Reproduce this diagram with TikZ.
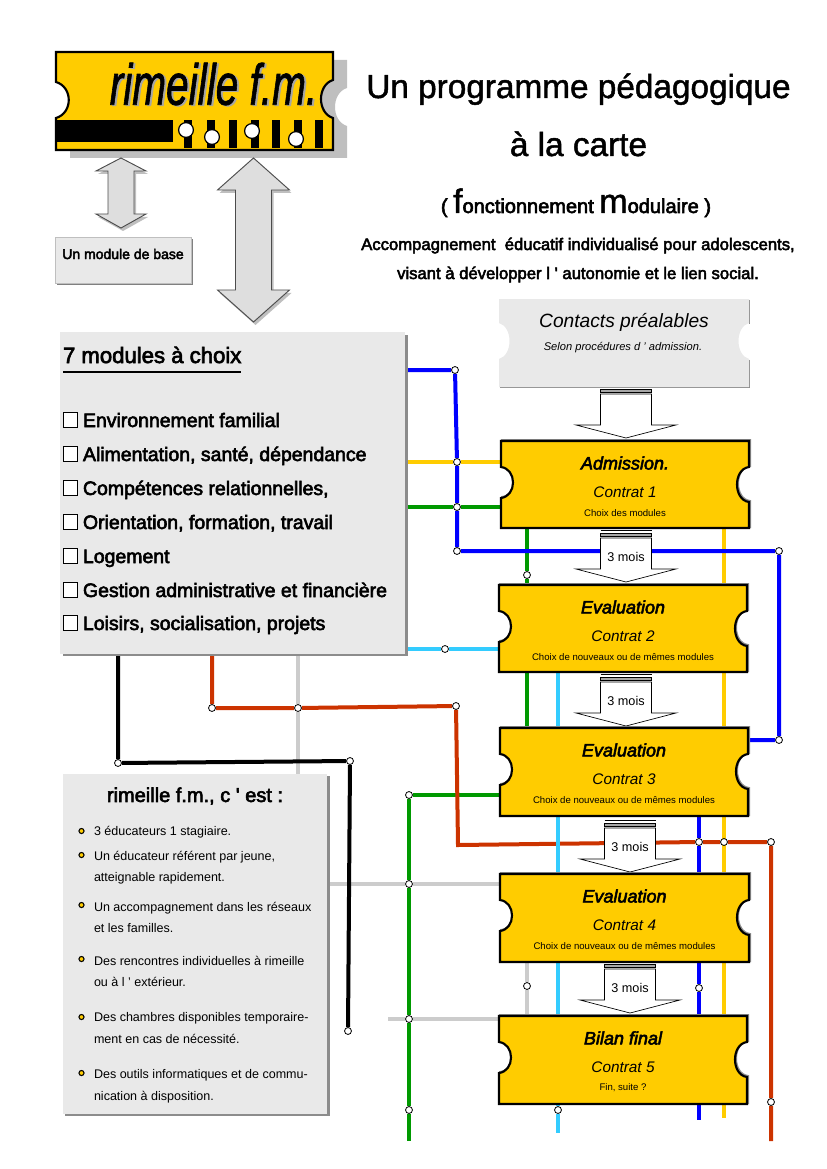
\documentclass[tikz,border=0pt]{standalone}
\usepackage{fontspec}
\usetikzlibrary{calc}
\setmainfont{Liberation Sans}
\newfontfamily\fb[FakeBold=3]{Liberation Sans}
\newfontfamily\fbt[FakeBold=1.4]{Liberation Sans}
\newcommand\fsz[1]{\fontsize{#1pt}{#1pt}\selectfont}
\definecolor{tyellow}{HTML}{FFCC00}
\definecolor{tgreen}{HTML}{009900}
\definecolor{tred}{HTML}{CC3300}
\definecolor{tcyan}{HTML}{33CCFF}
\definecolor{tblue}{HTML}{0000FF}
\definecolor{tgray}{HTML}{CCCCCC}
\definecolor{pale}{HTML}{E9E9E9}
\definecolor{edge}{HTML}{8C8C8C}
\pgfdeclarelayer{lines}
\pgfsetlayers{lines,main}
\tikzset{
  lnk/.style={line width=3pt,line cap=butt,line join=miter},
  jn/.style={circle,draw=black,fill=white,line width=0.6pt,minimum size=5.2pt,inner sep=0pt},
  panel/.style={fill=pale,inner sep=0,outer sep=0},
  txt/.style={inner sep=0,outer sep=0,anchor=base west,text=black},
  ctr/.style={inner sep=0,outer sep=0,anchor=center,text=black},
  cbase/.style={inner sep=0,outer sep=0,anchor=base,text=black},
  item/.style={txt,font=\fb\fsz{14.6}},
  small/.style={txt,font=\fsz{9.4}},
  bul/.style={circle,draw=black,fill=tyellow,line width=0.8pt,minimum size=3.8pt,inner sep=0pt},
  tick/.style={draw=black,fill=white,line width=0.5pt,minimum size=10.8pt,inner sep=0pt},
  dbl/.style={draw=black!70,fill=black!13,line width=0.7pt,line join=miter},
  dblsh/.style={fill=black!25},
  blk/.style={draw=black,fill=white,line width=0.5pt,line join=miter},
}
\newcommand\tickpath[2]{(0,0) -- (#1,0) -- (#1,26) .. controls ({#1-16},28) and ({#1-16},59) .. (#1,61) -- (#1,#2) -- (0,#2) -- (0,57) .. controls (16,55) and (16,28) .. (0,26) -- cycle}
\newcommand\ticket[8]{%
  \begin{scope}[shift={(#2,#3)}]
    \draw[black!45,line width=1.5pt,shift={(1,-1)}] \tickpath{#4}{#5};
    \draw[fill=tyellow,draw=black,line width=1.6pt,line join=miter] \tickpath{#4}{#5};
    \node[inner sep=0,outer sep=0,minimum width=#4*0.75pt,minimum height=#5*0.75pt] (#1) at ({#4/2},{#5/2}) {};
  \end{scope}
  \node[ctr,font=\fb\itshape\fsz{13.5}] (#1t) at ($(#1.north)+(0,22)$) {#6};
  \node[ctr,font=\itshape\fsz{11.5}] (#1c) at ($(#1.north)+(0,51.5)$) {#7};
  \node[ctr,font=\fsz{7.2}] (#1s) at ($(#1.north)+(0,72)$) {#8};
}
\newcommand\blockarrow[4]{%
  \draw[blk] (#2-25.5,#3-8) -- (#2+25.5,#3-8);
  \draw[line width=0.5pt,draw=black,fill=black!35] (#2-25.5,#3-5) rectangle (#2+25.5,#3-2);
  \draw[blk] (#2-25.5,#3) -- (#2+25.5,#3) -- (#2+25.5,#3+31) -- (#2+50,#3+31) -- (#2,#3+44) -- (#2-50,#3+31) -- (#2-25.5,#3+31) -- cycle;
  \node[ctr,font=\fsz{9.5}] (#1) at (#2,#3+19) {#4};
}
\newcommand\dblarrow[7]{%
  \fill[dblsh,shift={(2,3)}] (#1,#2) -- (#1+#7,#3) -- (#1+#6,#3) -- (#1+#6,#4) -- (#1+#7,#4) -- (#1,#5) -- (#1-#7,#4) -- (#1-#6,#4) -- (#1-#6,#3) -- (#1-#7,#3) -- cycle;
  \draw[dbl] (#1,#2) -- (#1+#7,#3) -- (#1+#6,#3) -- (#1+#6,#4) -- (#1+#7,#4) -- (#1,#5) -- (#1-#7,#4) -- (#1-#6,#4) -- (#1-#6,#3) -- (#1-#7,#3) -- cycle;
}
\begin{document}
\begin{tikzpicture}[x=0.75pt,y=-0.75pt]
\useasboundingbox (0,0) rectangle (826,1169);

% logo
\newcommand\logopath{(0,0) -- (277,0) -- (277,28) .. controls (261,33) and (261,61) .. (277,66) -- (277,98) -- (0,98) -- (0,66) .. controls (17,61) and (17,35) .. (0,30) -- cycle}
\begin{scope}[shift={(56,52)}]
  \fill[black!25,shift={(14,8)}] \logopath;
  \draw[fill=tyellow,draw=black,line width=1.6pt] \logopath;
  \node[inner sep=0,outer sep=0,minimum width=207.75pt,minimum height=73.5pt] (logo) at (138.5,49) {};
  \fill[black] (1,68) rectangle (117,90);
  \foreach \xa in {128,151,173,195,216,238,259}
    \fill[black] (\xa,68) rectangle (\xa+8,96);
  \foreach \cx/\cy in {130/78,156/85,196/79,240/87}
    \draw[fill=white,draw=black,line width=0.9pt] (\cx,\cy) circle (7.4);
\end{scope}
\node[ctr,text=black!35,font=\fbt\itshape\fsz{43.5},xscale=0.7] at (215.5,85) {rimeille f.m.};
\node[ctr,font=\fbt\itshape\fsz{43.5},xscale=0.7] (logotext) at (213.5,84) {rimeille f.m.};

% titles
\node[cbase,font=\fbt\fsz{25}] (t1) at (578.5,98) {Un programme pédagogique};
\node[cbase,font=\fbt\fsz{25}] (t2) at (578.5,156) {à la carte};
\node[cbase,font=\fb\fsz{15}] (t3) at (576,213) {( {\fbt\fsz{25.5}f}onctionnement {\fbt\fsz{25.5}m}odulaire )};
\node[cbase,font=\fb\fsz{12.5}] (t4) at (578,250) {Accompagnement\ \ éducatif individualisé pour adolescents,};
\node[cbase,font=\fb\fsz{12.5}] (t5) at (578,279) {visant à développer l ' autonomie et le lien social.};

% double arrows
\dblarrow{121}{158}{171}{214}{228}{13}{25}
\dblarrow{253.5}{158}{190}{290}{322}{18}{36}

% module de base
\fill[black!50] (57,239) rectangle (193,285);
\node[panel,draw=black!25,line width=0.4pt,minimum width=102pt,minimum height=34.5pt] (base) at (123,260) {};
\node[ctr,font=\fb\fsz{10.5}] (baset) at (123,254) {Un module de base};

% 7 modules
\fill[edge] (63,335) rectangle (407.5,655.5);
\node[panel,minimum width=258.75pt,minimum height=241.5pt] (mods) at (232.5,493) {};
\node[txt,font=\fb\fsz{16.6}] (modst) at (63,363) {7 modules à choix};
\draw[black,line width=1pt] (modst.west |- 0,372) -- (modst.east |- 0,372);
\foreach \n/\y/\t in {a/427/Environnement familial,b/461/{Alimentation, santé, dépendance},c/495/{Compétences relationnelles,},d/529/{Orientation, formation, travail},e/563/Logement,f/597/Gestion administrative et financière,g/630/{Loisirs, socialisation, projets}}{
  \node[tick] (box\n) at (70.5,\y-7) {};
  \node[item] (it\n) at (83,\y) {\t};
}

% rimeille box
\fill[edge] (65,776) rectangle (330,1116);
\node[panel,minimum width=198pt,minimum height=255pt] (rim) at (195,944) {};
\node[ctr,font=\fb\fsz{15}] (rimt) at (195,796) {rimeille f.m., c ' est :};
\foreach \n/\y/\t in {a/835/3 éducateurs 1 stagiaire.,b/860/{Un éducateur référent par jeune,},c/881/atteignable rapidement.,d/911/Un accompagnement dans les réseaux,e/932/et les familles.,f/965/Des rencontres individuelles à rimeille,g/986/ou à l ' extérieur.,h/1021/Des chambres disponibles temporaire-,i/1043/ment en cas de nécessité.,j/1078/Des outils informatiques et de commu-,k/1100/nication à disposition.}{
  \node[small] (rl\n) at (94,\y) {\t};
}
\foreach \n/\y in {a/831,b/855,c/905,d/959,e/1017,f/1073}{
  \node[bul] (bu\n) at (81.5,\y) {};
}

% block arrows (under tickets)
\blockarrow{ba0}{626}{394}{}
\blockarrow{ba1}{626}{538}{3 mois}
\blockarrow{ba2}{626}{682}{3 mois}
\blockarrow{ba3}{630}{828}{3 mois}
\blockarrow{ba4}{630}{969}{3 mois}

% contacts ticket
\begin{scope}[shift={(499,299)}]
  \newcommand\conpath{(0,0) -- (250,0) -- (250,24) .. controls (236,28) and (236,56) .. (250,60) -- (250,88) -- (0,88) -- (0,60) .. controls (14,56) and (14,28) .. (0,24) -- cycle}
  \draw[edge,line width=1pt,shift={(0.8,0.8)}] (250,0) -- (250,24) (250,60) -- (250,88) -- (0,88);
  \fill[pale] \conpath;
  \node[inner sep=0,outer sep=0,minimum width=187.5pt,minimum height=66pt] (con) at (125,44) {};
\end{scope}
\node[ctr,font=\itshape\fsz{14.4}] (cont) at (624,322.5) {Contacts préalables};
\node[ctr,font=\itshape\fsz{8.35}] (cons) at (623,348) {Selon procédures d ' admission.};

% tickets
\ticket{adm}{501}{441}{248}{87}{Admission.}{Contrat 1}{Choix des modules}
\ticket{ev2}{499}{585}{248}{87}{Evaluation}{Contrat 2}{Choix de nouveaux ou de mêmes modules}
\ticket{ev3}{500}{728}{248}{88}{Evaluation}{Contrat 3}{Choix de nouveaux ou de mêmes modules}
\ticket{ev4}{500}{874}{249}{88}{Evaluation}{Contrat 4}{Choix de nouveaux ou de mêmes modules}
\ticket{bil}{499}{1016}{248}{88}{Bilan final}{Contrat 5}{Fin, suite ?}

% junctions
\foreach \n/\x/\y in {
 jbA/455/370, jbB/457/462, jbC/457/507, jbD/457/551, jbE/779/551, jbF/779/740,
 jgA/527/575, jgB/409/795, jgC/409/884, jgD/409/1019, jgE/409/1110,
 jcA/445/649, jcB/558/1110,
 jrA/212/708, jrB/298/708, jrC/456/706, jrD/699/842, jrE/724/842, jrF/771/842, jrG/771/1102,
 jyA/527/986, jbG/699/988,
 jkA/118/763, jkB/350/761, jkC/348/1031}{
  \node[jn] (\n) at (\x,\y) {};
}
\coordinate (yEnd) at (724,1118);
\coordinate (gEnd) at (409,1141);
\coordinate (cEnd) at (558,1133);
\coordinate (rEnd) at (771,1141);
\coordinate (bEnd) at (699,1120);
\coordinate (grEnd) at (388,1019);
\coordinate (rBend) at (458,845);

\begin{pgfonlayer}{lines}
  % yellow
  \draw[lnk,tyellow] (mods.east |- jbB) -- (jbB) -- (jbB -| adm.west);
  \draw[lnk,tyellow] (yEnd |- adm.south) -- (yEnd);
  % green
  \draw[lnk,tgreen] (mods.east |- jbC) -- (jbC) -- (jbC -| adm.west);
  \draw[lnk,tgreen] (jgA |- adm.south) -- (jgA) -- (jgA |- ev3.north);
  \draw[lnk,tgreen] (ev3.west |- jgB) -- (jgB) -- (jgC) -- (jgD) -- (jgE) -- (gEnd);
  % gray
  \draw[lnk,tgray] (jrB |- mods.south) -- (jrB) -- (jrB |- rim.north);
  \draw[lnk,tgray] (rim.east |- jgC) -- (jgC) -- (jgC -| ev4.west);
  \draw[lnk,tgray] (jyA |- ev4.south) -- (jyA) -- (jyA |- bil.north);
  \draw[lnk,tgray] (grEnd) -- (jgD) -- (jgD -| bil.west);
  % red
  \draw[lnk,tred] (jrA |- mods.south) -- (jrA) -- (jrB) -- (jrC) -- (rBend) -- (jrD) -- (jrE) -- (jrF) -- (jrG) -- (rEnd);
  % cyan
  \draw[lnk,tcyan] (mods.east |- jcA) -- (jcA) -- (jcA -| ev2.west);
  \draw[lnk,tcyan] (jcB |- ev2.south) -- (jcB) -- (cEnd);
  % blue
  \draw[lnk,tblue] (mods.east |- jbA) -- (jbA) -- (jbB) -- (jbC) -- (jbD) -- (jbE) -- (jbF) -- (jbF -| ev3.east);
  \draw[lnk,tblue] (jrD |- ev3.south) -- (jrD) -- (jbG) -- (bEnd);
  % black
  \draw[lnk,black] (jkA |- mods.south) -- (jkA) -- (jkB) -- (jkC);
\end{pgfonlayer}
\end{tikzpicture}
\end{document}
